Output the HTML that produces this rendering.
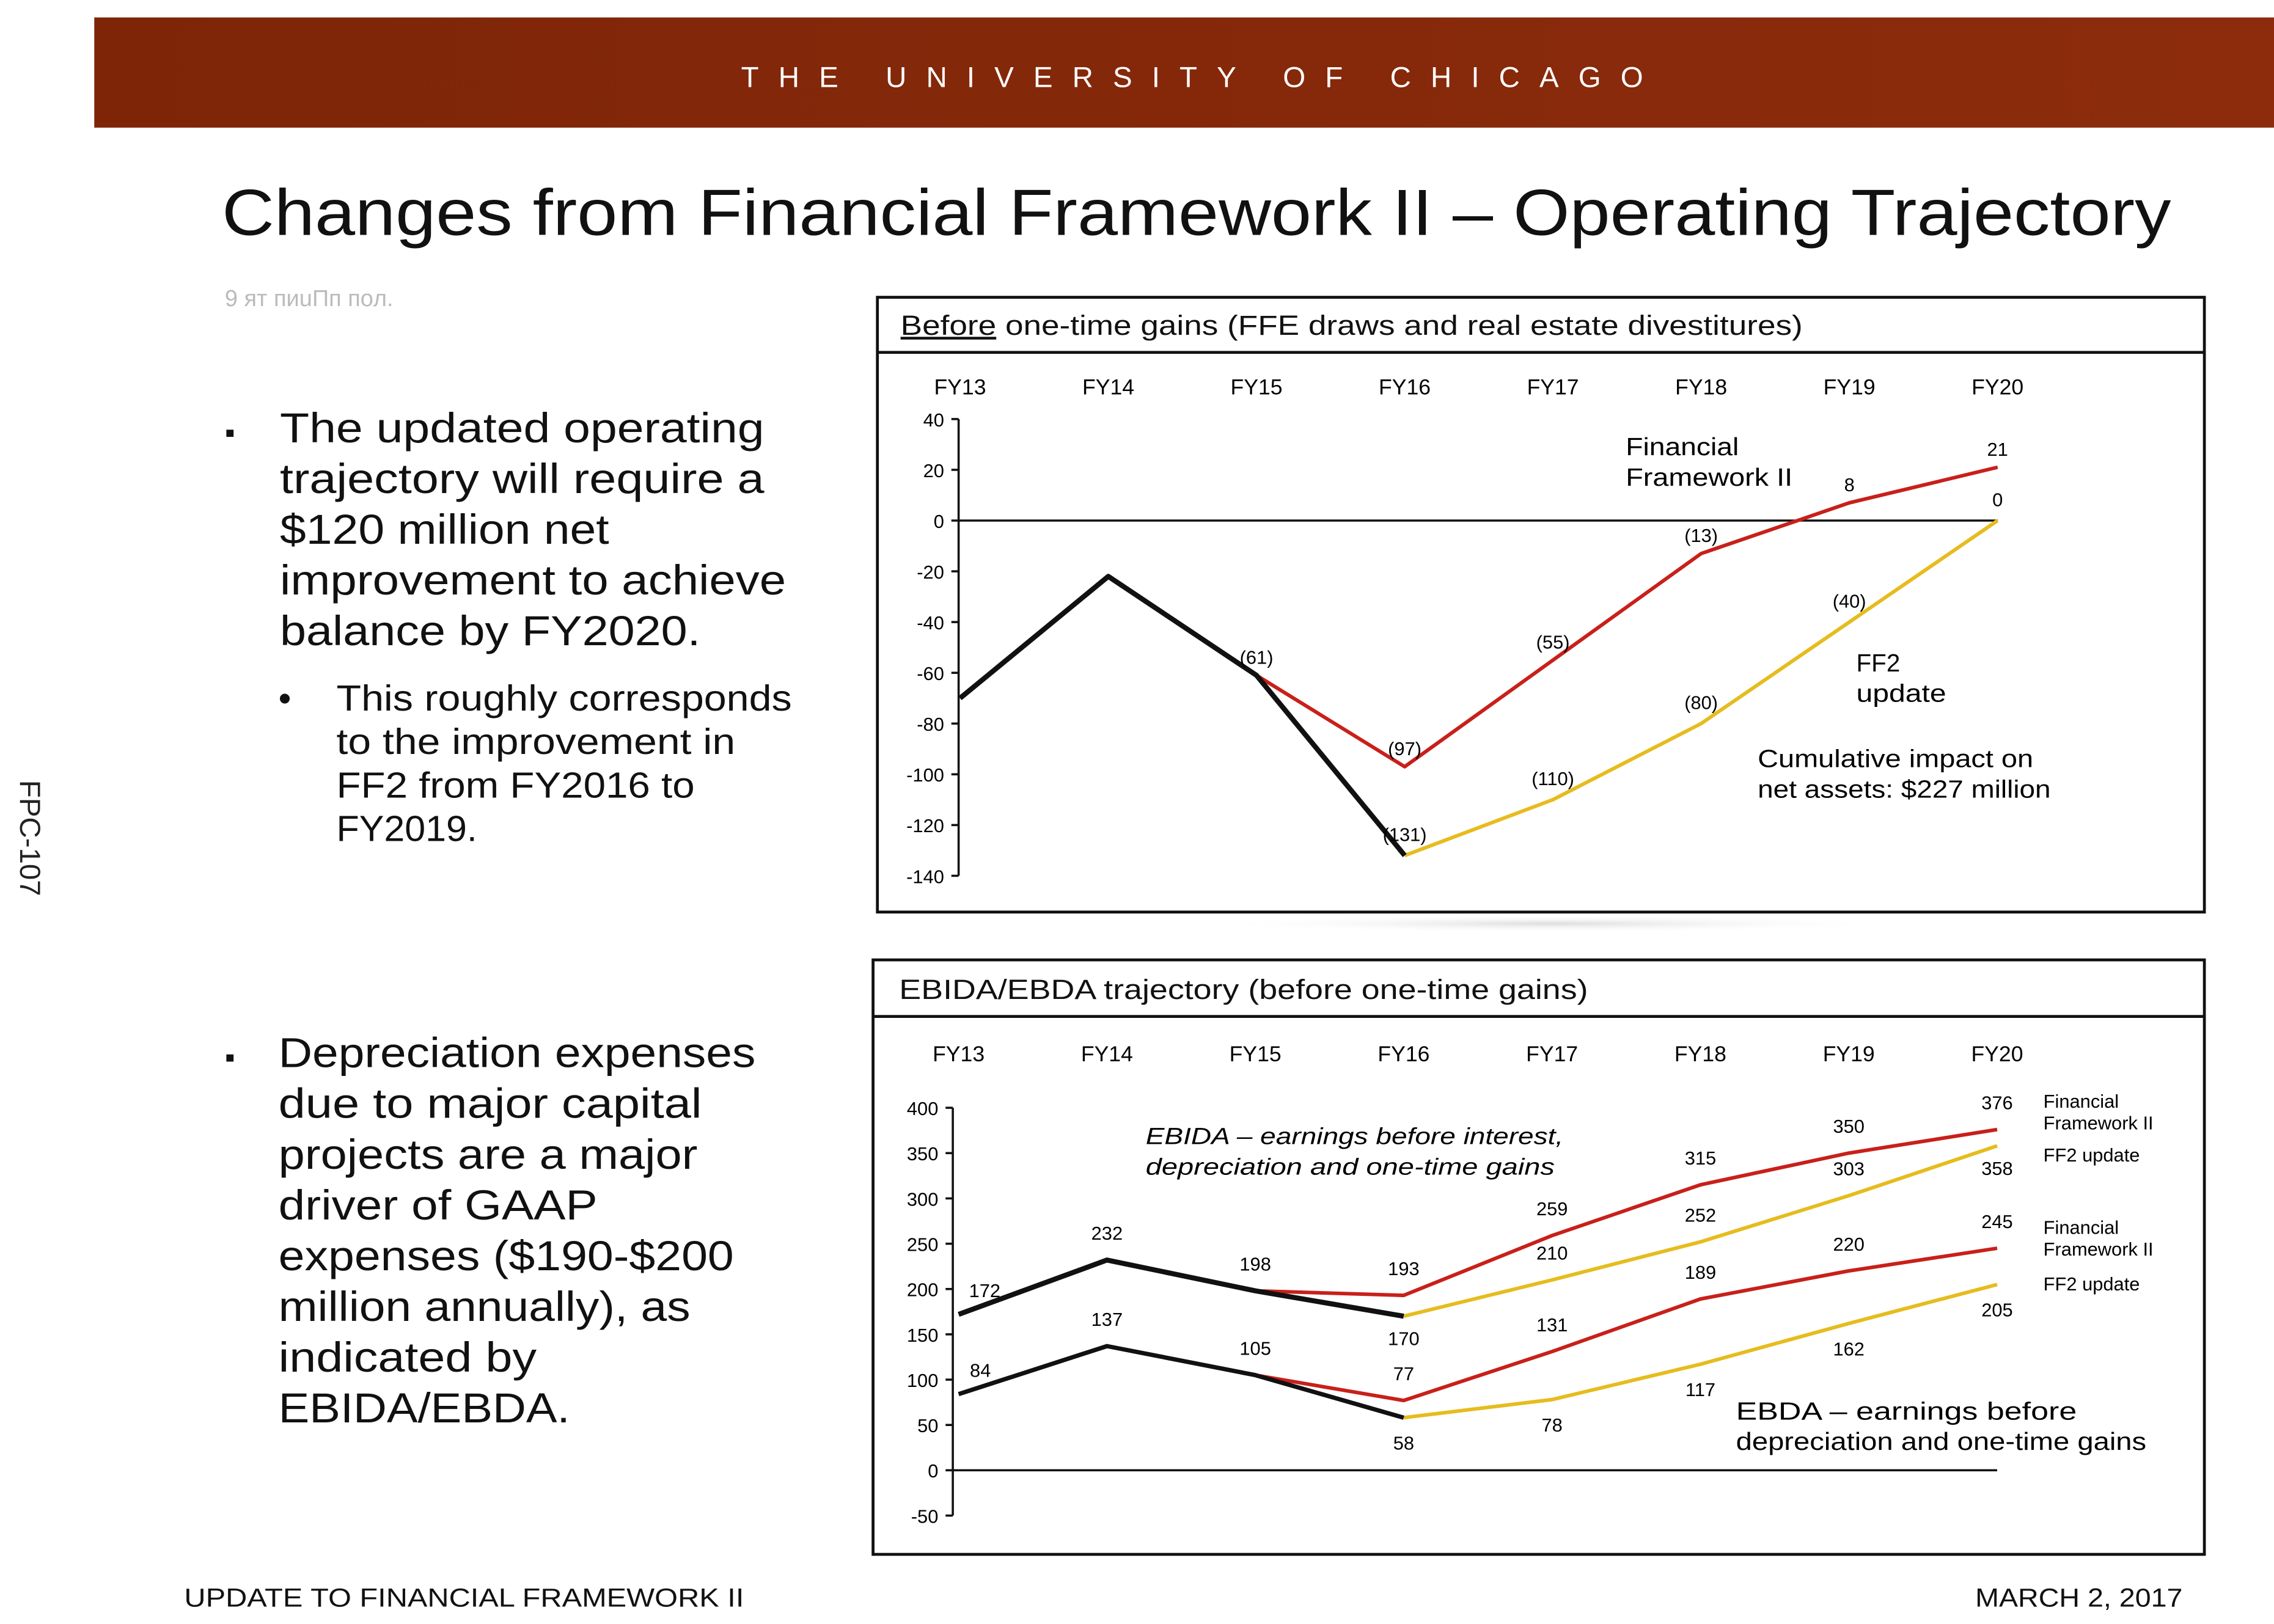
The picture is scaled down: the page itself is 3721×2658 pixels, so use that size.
<!DOCTYPE html>
<html><head><meta charset="utf-8"><style>
html,body{margin:0;padding:0;background:#fff;}
svg{display:block;}
text{font-family:"Liberation Sans",sans-serif;}
</style></head><body>
<svg id="s" width="3721" height="2658" viewBox="0 0 1568 1120" xmlns="http://www.w3.org/2000/svg">
<defs><linearGradient id="hg" x1="0" x2="1"><stop offset="0" stop-color="#7e2508"/><stop offset="1" stop-color="#8c2c0c"/></linearGradient>
<radialGradient id="sh"><stop offset="0" stop-color="#ddd"/><stop offset="1" stop-color="#fff" stop-opacity="0"/></radialGradient></defs>
<rect x="65" y="12" width="1503" height="76" fill="url(#hg)"/>
<text x="511" y="60" fill="#fff" font-size="20" textLength="622" lengthAdjust="spacing">THE UNIVERSITY OF CHICAGO</text>
<text x="153" y="162" font-size="45" fill="#111" textLength="1344" lengthAdjust="spacingAndGlyphs">Changes from Financial Framework II – Operating Trajectory</text>
<text x="155" y="211" font-size="16" fill="#bbb">9 ят пиuПп пoл.</text>
<text transform="translate(14,538) rotate(90)" font-size="20" fill="#222" font-family="Liberation Serif">FPC-107</text>
<g font-size="29" fill="#111" lengthAdjust="spacingAndGlyphs">
<text x="155" y="305" font-size="20">▪</text>
<text x="193" y="305" textLength="334" lengthAdjust="spacingAndGlyphs">The updated operating</text><text x="193" y="340" textLength="334" lengthAdjust="spacingAndGlyphs">trajectory will require a</text><text x="193" y="375" textLength="227" lengthAdjust="spacingAndGlyphs">$120 million net</text><text x="193" y="410" textLength="349" lengthAdjust="spacingAndGlyphs">improvement to achieve</text><text x="193" y="445" textLength="290" lengthAdjust="spacingAndGlyphs">balance by FY2020.</text>
</g>
<g font-size="25" fill="#111">
<text x="192" y="490">•</text>
<text x="232" y="490" textLength="314" lengthAdjust="spacingAndGlyphs">This roughly corresponds</text><text x="232" y="520" textLength="275" lengthAdjust="spacingAndGlyphs">to the improvement in</text><text x="232" y="550" textLength="247" lengthAdjust="spacingAndGlyphs">FF2 from FY2016 to</text><text x="232" y="580" textLength="97" lengthAdjust="spacingAndGlyphs">FY2019.</text>
</g>
<g font-size="29" fill="#111">
<text x="155" y="736" font-size="20">▪</text>
<text x="192" y="736" textLength="329" lengthAdjust="spacingAndGlyphs">Depreciation expenses</text><text x="192" y="771" textLength="292" lengthAdjust="spacingAndGlyphs">due to major capital</text><text x="192" y="806" textLength="289" lengthAdjust="spacingAndGlyphs">projects are a major</text><text x="192" y="841" textLength="220" lengthAdjust="spacingAndGlyphs">driver of GAAP</text><text x="192" y="876" textLength="314" lengthAdjust="spacingAndGlyphs">expenses ($190-$200</text><text x="192" y="911" textLength="284" lengthAdjust="spacingAndGlyphs">million annually), as</text><text x="192" y="946" textLength="178" lengthAdjust="spacingAndGlyphs">indicated by</text><text x="192" y="981" textLength="201" lengthAdjust="spacingAndGlyphs">EBIDA/EBDA.</text>
</g>
<text x="127" y="1108" font-size="18" fill="#111" textLength="386" lengthAdjust="spacingAndGlyphs">UPDATE TO FINANCIAL FRAMEWORK II</text>
<text x="1362" y="1108" font-size="18" fill="#111" textLength="143" lengthAdjust="spacingAndGlyphs">MARCH 2, 2017</text>
<ellipse cx="1070" cy="637" rx="240" ry="6" fill="url(#sh)"/>
<g>
<rect x="605" y="205" width="915" height="424" fill="none" stroke="#111" stroke-width="2"/>
<line x1="605" y1="243" x2="1520" y2="243" stroke="#111" stroke-width="2"/>
<text x="621" y="231" font-size="19" fill="#111" textLength="622" lengthAdjust="spacingAndGlyphs"><tspan text-decoration="underline">Before</tspan> one-time gains (FFE draws and real estate divestitures)</text>
<g id="c1"></g>
<text x="1121" y="314" font-size="17" textLength="78" lengthAdjust="spacingAndGlyphs">Financial</text><text x="1121" y="335" font-size="17" textLength="115" lengthAdjust="spacingAndGlyphs">Framework II</text>
<text x="1280" y="463" font-size="17">FF2</text><text x="1280" y="484" font-size="17" textLength="62" lengthAdjust="spacingAndGlyphs">update</text>
<text x="1212" y="529" font-size="17" textLength="190" lengthAdjust="spacingAndGlyphs">Cumulative impact on</text><text x="1212" y="550" font-size="17" textLength="202" lengthAdjust="spacingAndGlyphs">net assets: $227 million</text>
</g>
<g>
<rect x="602" y="662" width="918" height="410" fill="none" stroke="#111" stroke-width="2"/>
<line x1="602" y1="701" x2="1520" y2="701" stroke="#111" stroke-width="2"/>
<text x="620" y="689" font-size="19" fill="#111" textLength="475" lengthAdjust="spacingAndGlyphs">EBIDA/EBDA trajectory (before one-time gains)</text>
<g id="c2"></g>
<text x="790" y="789" font-size="16" font-style="italic" textLength="288" lengthAdjust="spacingAndGlyphs">EBIDA – earnings before interest,</text>
<text x="790" y="810" font-size="16" font-style="italic" textLength="282" lengthAdjust="spacingAndGlyphs">depreciation and one-time gains</text>
<text x="1197" y="979" font-size="17" textLength="235" lengthAdjust="spacingAndGlyphs">EBDA – earnings before</text><text x="1197" y="1000" font-size="17" textLength="283" lengthAdjust="spacingAndGlyphs">depreciation and one-time gains</text>
<g font-size="13"><text x="1409" y="764">Financial</text><text x="1409" y="779">Framework II</text><text x="1409" y="801">FF2 update</text>
<text x="1409" y="851">Financial</text><text x="1409" y="866">Framework II</text><text x="1409" y="890">FF2 update</text></g>
</g>
</svg>
<script>
const years=["FY13","FY14","FY15","FY16","FY17","FY18","FY19","FY20"];
const c1Ticks=[40,20,0,-20,-40,-60,-80,-100,-120,-140];
const c1Actual=[-70,-22,-61,-132];
const c1FF2=[null,null,-61,-97,-55,-13,7,21];
const c1Update=[null,null,null,-132,-110,-80,-40,0];
const c1Labels=[null,null,"(61)","(97)","(55)","(13)","8","21"];
const c1ULabels=[null,null,null,"(131)","(110)","(80)","(40)","0"];
const c2Ticks=[400,350,300,250,200,150,100,50,0,-50];
const ebidaActual=[172,232,198,170];
const ebidaFF2=[null,null,198,193,259,315,350,376];
const ebidaUpd=[null,null,null,170,210,252,303,358];
const ebdaActual=[84,137,105,58];
const ebdaFF2=[null,null,105,77,131,189,220,245];
const ebdaUpd=[null,null,null,58,78,117,162,205];
const NS="http://www.w3.org/2000/svg";
function mk(g,tag,at,txt){const e=document.createElementNS(NS,tag);for(const k in at)e.setAttribute(k,at[k]);if(txt!==undefined)e.textContent=txt;g.appendChild(e);return e;}
function draw(gid,cfg){
 const g=document.getElementById(gid);
 const X=i=>cfg.x0+i*cfg.dx;
 const Y=v=>cfg.y0-(v-cfg.v0)*cfg.k;
 years.forEach((y,i)=>{const t=mk(g,'text',{x:X(i),y:cfg.yl,'font-size':15,'text-anchor':'middle'},y);
 
 });
 mk(g,'line',{x1:cfg.ax,y1:Y(cfg.ticks[0]),x2:cfg.ax,y2:Y(cfg.ticks[cfg.ticks.length-1]),stroke:'#111','stroke-width':1.5});
 cfg.ticks.forEach(v=>{mk(g,'line',{x1:cfg.ax-5,y1:Y(v),x2:cfg.ax,y2:Y(v),stroke:'#111','stroke-width':1.5});
 const t=mk(g,'text',{x:cfg.ax-10,y:Y(v)+5,'font-size':13,'text-anchor':'end'},v);
 
 });
 mk(g,'line',{x1:cfg.ax,y1:Y(0),x2:X(7),y2:Y(0),stroke:'#111','stroke-width':1.5});
 cfg.series.forEach(s=>{const pts=[];s.d.forEach((v,i)=>{if(v!==null)pts.push(X(i)+','+Y(v));});
 const p=mk(g,'polyline',{points:pts.join(' '),fill:'none',stroke:s.c,'stroke-width':s.w,'stroke-linejoin':'round'});
 
 });
 (cfg.labels||[]).forEach(L=>{L.t.forEach((t,i)=>{if(t===null||L.d[i]===null)return;
 const oy=typeof L.oy==='function'?L.oy(i):L.oy;
 const ox=typeof L.ox==='function'?L.ox(i):(L.ox||0);
 const lb=mk(g,'text',{x:X(i)+ox,y:Y(L.d[i])+oy,'font-size':13,'text-anchor':'middle'},t);
 
 });});
}
const R='#c8201a',Yl='#e6bc1e',K='#111';
draw('c1',{x0:662,dx:102.2,y0:359,v0:0,k:1.75,ax:661,yl:272,ticks:c1Ticks,
 series:[{d:c1FF2,c:R,w:2.5,n:'ff2-line'},{d:c1Update,c:Yl,w:2.5,n:'ff2-update-line'},{d:c1Actual,c:K,w:3.5,n:'actual-line'}],
 labels:[{d:c1FF2,t:c1Labels,oy:-8},{d:c1ULabels.map((v,i)=>v===null?null:c1Update[i]),t:c1ULabels,oy:-10}]});
draw('c2',{x0:661,dx:102.3,y0:1014,v0:0,k:0.625,ax:657,yl:732,ticks:c2Ticks,
 series:[{d:ebidaFF2,c:R,w:2.5,n:'ebida-ff2-line'},{d:ebidaUpd,c:Yl,w:2.5,n:'ebida-update-line'},{d:ebidaActual,c:K,w:3.5,n:'ebida-actual-line'},
 {d:ebdaFF2,c:R,w:2.5,n:'ebda-ff2-line'},{d:ebdaUpd,c:Yl,w:2.5,n:'ebda-update-line'},{d:ebdaActual,c:K,w:3,n:'ebda-actual-line'}],
 labels:[{d:ebidaFF2,t:ebidaFF2.map((v,i)=>i<3?null:v),oy:-14},
 {d:ebidaUpd,t:ebidaUpd.map((v,i)=>i<4?null:v),oy:i=>i===7?20:-14},
 {d:ebdaFF2,t:ebdaFF2.map((v,i)=>i<3?null:v),oy:-14},
 {d:ebdaUpd,t:ebdaUpd.map((v,i)=>i<4?null:v),oy:22},
 {d:ebidaActual,t:ebidaActual,oy:i=>i===3?20:(i===0?-12:-14),ox:i=>i===0?18:0},
 {d:ebdaActual,t:ebdaActual,oy:i=>i===3?22:(i===0?-12:-14),ox:i=>i===0?15:0}]});
</script>
</body></html>
